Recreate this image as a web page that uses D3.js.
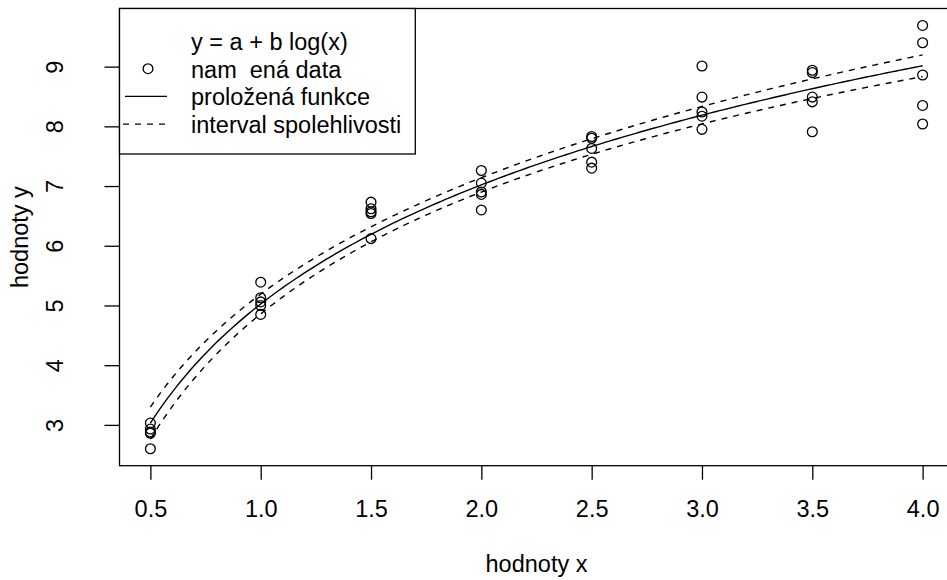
<!DOCTYPE html>
<html>
<head>
<meta charset="utf-8">
<script src="https://cdn.jsdelivr.net/npm/d3@7"></script>
<style>
  body { margin: 0; background: #fff; }
  svg text { font-family: "Liberation Sans", Arial, Helvetica, sans-serif; font-size: 23.5px; fill: #000; }
</style>
</head>
<body>
<svg id="chart" width="947" height="580"></svg>
<script>
// measured x levels, five repeated measurements at each
const xLevels = [0.5, 1.0, 1.5, 2.0, 2.5, 3.0, 3.5, 4.0];
const yObserved = [
    [3.03, 2.93, 2.88, 2.86, 2.60],
    [5.39, 5.13, 5.06, 5.00, 4.85],
    [6.73, 6.62, 6.57, 6.54, 6.12],
    [7.26, 7.05, 6.90, 6.86, 6.60],
    [7.83, 7.80, 7.63, 7.40, 7.30],
    [9.01, 8.49, 8.24, 8.17, 7.95],
    [8.94, 8.90, 8.49, 8.41, 7.91],
    [9.69, 9.40, 8.86, 8.35, 8.04]
];
const xTicks = [0.5, 1.0, 1.5, 2.0, 2.5, 3.0, 3.5, 4.0];
const yTicks = [3, 4, 5, 6, 7, 8, 9];
const legendTitle = 'y = a + b log(x)';
const legendLabels = ['nam  ená data', 'proložená funkce', 'interval spolehlivosti'];
const xTitle = 'hodnoty x';
const yTitle = 'hodnoty y';
const tCrit = 2.024; // t(0.975, df = 38)

const points = xLevels.flatMap((x, i) => yObserved[i].map(y => ({ x, y })));

// least squares fit of y = a + b*log(x)
const n = points.length;
const lx = points.map(d => Math.log(d.x));
const lMean = d3.mean(lx);
const yMean = d3.mean(points, d => d.y);
const Sxx = d3.sum(lx, l => (l - lMean) ** 2);
const Sxy = d3.sum(points, (d, i) => (lx[i] - lMean) * (d.y - yMean));
const b = Sxy / Sxx;
const a = yMean - b * lMean;
const s = Math.sqrt(d3.sum(points, (d, i) => (d.y - a - b * lx[i]) ** 2) / (n - 2));

const grid = d3.range(0.5, 4.0001, 0.02).map(x => {
    const l = Math.log(x);
    const fit = a + b * l;
    const half = tCrit * s * Math.sqrt(1 / n + (l - lMean) ** 2 / Sxx);
    return { x, fit, lo: fit - half, hi: fit + half };
});

// R style 4% range extension
function pad(ext) {
    const r = ext[1] - ext[0];
    return [ext[0] - 0.04 * r, ext[1] + 0.04 * r];
}

const pLeft = 119.5, pTop = 8.5, pRight = 953.5, pBottom = 465.7;
const fontCss = '"Liberation Sans", Arial, sans-serif';

const x = d3.scaleLinear().domain(pad(d3.extent(points, d => d.x))).range([pLeft, pRight]);
const y = d3.scaleLinear().domain(pad(d3.extent(points, d => d.y))).range([pBottom, pTop]);

const svg = d3.select('#chart');

// axes
const xAxis = svg.append('g')
    .attr('transform', `translate(0,${pBottom})`)
    .call(d3.axisBottom(x).tickValues(xTicks).tickFormat(d3.format('.1f')).tickSize(14).tickSizeOuter(0));
xAxis.select('.domain').remove();
xAxis.selectAll('line').attr('stroke', '#000').attr('stroke-width', 1.3);
xAxis.selectAll('text')
    .attr('y', 517 - pBottom).attr('dy', null)
    .style('font-size', '23.5px').style('font-family', fontCss).attr('fill', '#000');

const yAxis = svg.append('g')
    .attr('transform', `translate(${pLeft},0)`)
    .call(d3.axisLeft(y).tickValues(yTicks).tickFormat(d3.format('d')).tickSize(15).tickSizeOuter(0));
yAxis.select('.domain').remove();
yAxis.selectAll('line').attr('stroke', '#000').attr('stroke-width', 1.3);
yAxis.selectAll('text')
    .attr('x', null).attr('dy', null)
    .attr('text-anchor', 'middle')
    .attr('transform', `translate(${63 - pLeft},0) rotate(-90)`)
    .style('font-size', '23.5px').style('font-family', fontCss).attr('fill', '#000');

// axis titles
svg.append('text')
    .attr('x', (pLeft + pRight) / 2).attr('y', 572)
    .attr('text-anchor', 'middle')
    .text(xTitle);
svg.append('text')
    .attr('transform', `translate(28,${(pTop + pBottom) / 2}) rotate(-90)`)
    .attr('text-anchor', 'middle')
    .text(yTitle);

// fitted curve and confidence band
const line = key => d3.line().x(d => x(d.x)).y(d => y(d[key]));
svg.append('path').datum(grid)
    .attr('d', line('fit'))
    .attr('fill', 'none').attr('stroke', '#000').attr('stroke-width', 1.4);
['lo', 'hi'].forEach(k => {
    svg.append('path').datum(grid)
        .attr('d', line(k))
        .attr('fill', 'none').attr('stroke', '#000').attr('stroke-width', 1.4)
        .attr('stroke-dasharray', '6,6');
});

// data points
svg.append('g').selectAll('circle')
    .data(points)
    .join('circle')
    .attr('cx', d => x(d.x))
    .attr('cy', d => y(d.y))
    .attr('r', 4.9)
    .attr('fill', 'none')
    .attr('stroke', '#000')
    .attr('stroke-width', 1.3);

// plot frame
svg.append('rect')
    .attr('x', pLeft).attr('y', pTop)
    .attr('width', pRight - pLeft).attr('height', pBottom - pTop)
    .attr('fill', 'none').attr('stroke', '#000').attr('stroke-width', 1.3);

// legend
const lg = svg.append('g');
const legendBox = lg.append('rect')
    .attr('fill', '#fff').attr('stroke', '#000').attr('stroke-width', 1.3);
const textX = 191, firstBase = 50, rowStep = 27.7;
const rows = [legendTitle, ...legendLabels];
const texts = lg.selectAll('text')
    .data(rows)
    .join('text')
    .attr('x', textX)
    .attr('y', (d, i) => firstBase + i * rowStep)
    .style('white-space', 'pre')
    .text(d => d);
const maxW = d3.max(texts.nodes(), t => t.getComputedTextLength());
legendBox
    .attr('x', pLeft).attr('y', pTop)
    .attr('width', textX + maxW + 14 - pLeft)
    .attr('height', 154 - pTop);

lg.append('circle')
    .attr('cx', 148).attr('cy', firstBase + rowStep - 9)
    .attr('r', 4.9).attr('fill', 'none').attr('stroke', '#000').attr('stroke-width', 1.3);
lg.append('line')
    .attr('x1', 125).attr('x2', 167)
    .attr('y1', firstBase + 2 * rowStep - 9).attr('y2', firstBase + 2 * rowStep - 9)
    .attr('stroke', '#000').attr('stroke-width', 1.4);
lg.append('line')
    .attr('x1', 123).attr('x2', 169)
    .attr('y1', firstBase + 3 * rowStep - 9).attr('y2', firstBase + 3 * rowStep - 9)
    .attr('stroke', '#000').attr('stroke-width', 1.4)
    .attr('stroke-dasharray', '6,6');
</script>
</body>
</html>
